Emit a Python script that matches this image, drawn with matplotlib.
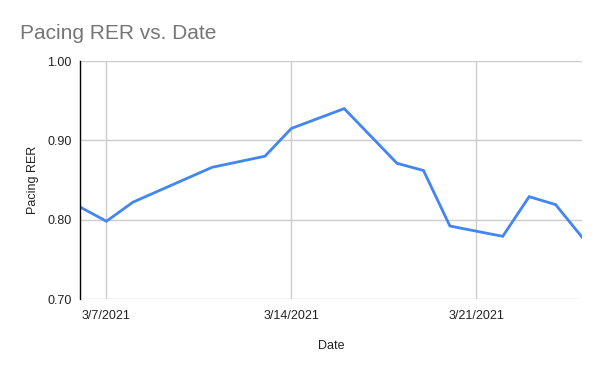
"""Pacing RER vs. Date line chart."""

import matplotlib

matplotlib.use("Agg")

import matplotlib.dates as mdates
import matplotlib.pyplot as plt
import numpy as np

plt.rcParams["font.family"] = ["Liberation Sans", "DejaVu Sans"]

dates = np.array(
    [
        "2021-03-06", "2021-03-07", "2021-03-08", "2021-03-11", "2021-03-13",
        "2021-03-14", "2021-03-16", "2021-03-18", "2021-03-19", "2021-03-20",
        "2021-03-22", "2021-03-23", "2021-03-24", "2021-03-25",
    ],
    dtype="datetime64[D]",
)
pacing_rer = [0.816, 0.798, 0.822, 0.866, 0.880, 0.915, 0.940, 0.871,
              0.862, 0.792, 0.779, 0.829, 0.819, 0.778]
y_ticks = [0.70, 0.80, 0.90, 1.00]
x_ticks = np.array(["2021-03-07", "2021-03-14", "2021-03-21"], dtype="datetime64[D]")

fig = plt.figure(figsize=(6, 3.71), dpi=100)
ax = fig.add_axes([80 / 600, 1 - 299 / 371, 502 / 600, 238 / 371])

ax.plot(dates, pacing_rer, color="#4285f4", linewidth=2, solid_joinstyle="miter")

ax.set_xlim(dates[0], dates[-1])
ax.set_ylim(0.70, 1.00)
ax.set_yticks(y_ticks)
ax.set_yticklabels([f"{v:.2f}" for v in y_ticks])
ax.set_xticks(x_ticks)
ax.xaxis.set_major_formatter(mdates.DateFormatter("%-m/%-d/%Y"))

ax.grid(True, color="#cccccc", linewidth=1)
ax.set_axisbelow(True)
for side in ["top", "right", "bottom"]:
    ax.spines[side].set_visible(False)
ax.spines["left"].set_color("#000000")
ax.spines["left"].set_linewidth(1)
ax.tick_params(length=0, labelsize=9, colors="#222222", pad=6)
ax.tick_params(axis="x", pad=8)

ax.set_xlabel("Date", fontsize=9, color="#222222", labelpad=13)
ax.set_ylabel("Pacing RER", fontsize=9, color="#222222", labelpad=6)

fig.text(20 / 600, 1 - 39 / 371, "Pacing RER vs. Date", fontsize=15,
         color="#757575", va="baseline", ha="left")

fig.savefig("out.png", dpi=100)
plt.close(fig)
